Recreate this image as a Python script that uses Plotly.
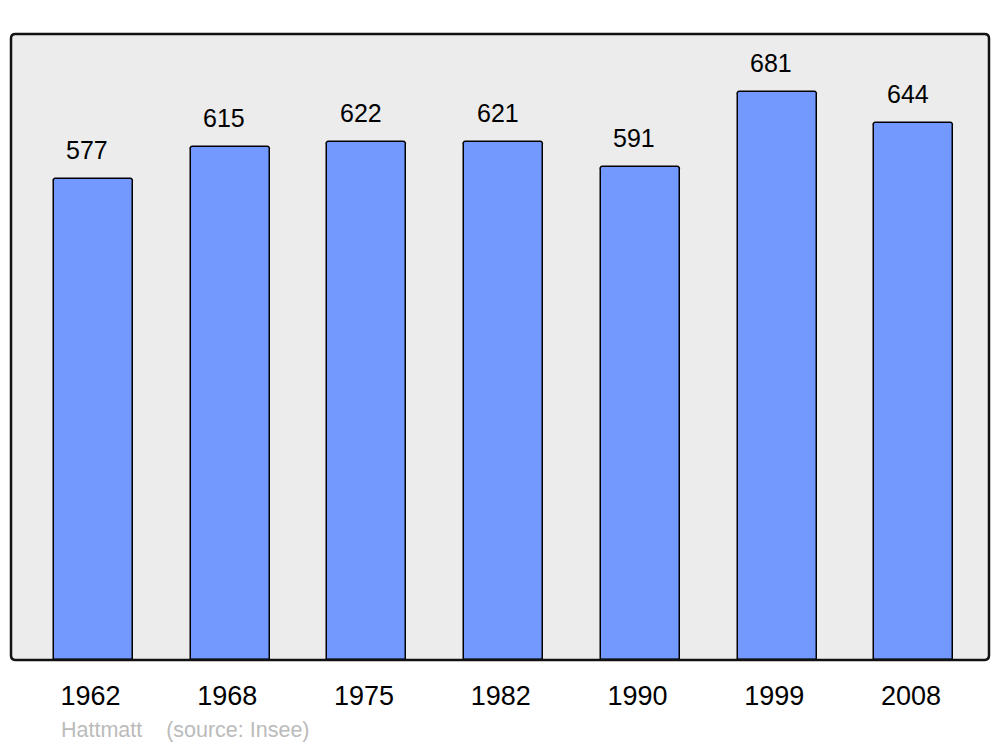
import plotly.graph_objects as go

years = ["1962", "1968", "1975", "1982", "1990", "1999", "2008"]
population = [577, 615, 622, 621, 591, 681, 644]

fig = go.Figure()
fig.add_trace(go.Bar(
    x=years, y=population,
    width=0.578,
    marker=dict(color="#7399ff", line=dict(color="#000000", width=1.5), cornerradius=3),
    hoverinfo="x+y",
))

annotations = []
for i, v in enumerate(population):
    annotations.append(dict(x=i, y=v, xref="x", yref="y", text=str(v), showarrow=False,
                            yanchor="middle", yshift=29, xshift=-6,
                            font=dict(family="Liberation Sans, Arial", size=25, color="#000")))
annotations.append(dict(xref="paper", yref="paper", x=(59 - 11) / 978, y=-(730 - 660) / 626,
                        xanchor="left", yanchor="middle", showarrow=False,
                        text="Hattmatt&nbsp;&nbsp;&nbsp;&nbsp;(source: Insee)",
                        font=dict(family="Liberation Sans, Arial", size=21.5, color="#bbbbbb")))

# rounded frame
rx, ry = 0.0045, 0.007
path = (f"M {rx},0 L {1-rx},0 Q 1,0 1,{ry} L 1,{1-ry} Q 1,1 {1-rx},1 "
        f"L {rx},1 Q 0,1 0,{1-ry} L 0,{ry} Q 0,0 {rx},0 Z")

fig.update_layout(
    width=1000, height=747,
    margin=dict(l=11, r=11, t=34, b=87),
    paper_bgcolor="#ffffff",
    plot_bgcolor="#ececec",
    showlegend=False,
    bargap=0,
    annotations=annotations,
    shapes=[dict(type="path", path=path, xref="paper", yref="paper",
                 line=dict(color="#111111", width=2.5), layer="above")],
    xaxis=dict(type="category", range=[-0.603, 6.549], showgrid=False, zeroline=False,
               showline=False, ticks="", ticklabelstandoff=17, ticklabelshift=-3,
               tickfont=dict(family="Liberation Sans, Arial", size=27, color="#000")),
    yaxis=dict(range=[0, 751], showgrid=False, zeroline=False, showline=False,
               showticklabels=False, ticks=""),
)

fig.write_html("out.html", config={"displayModeBar": False},
               post_script="document.body.style.margin='0';")
